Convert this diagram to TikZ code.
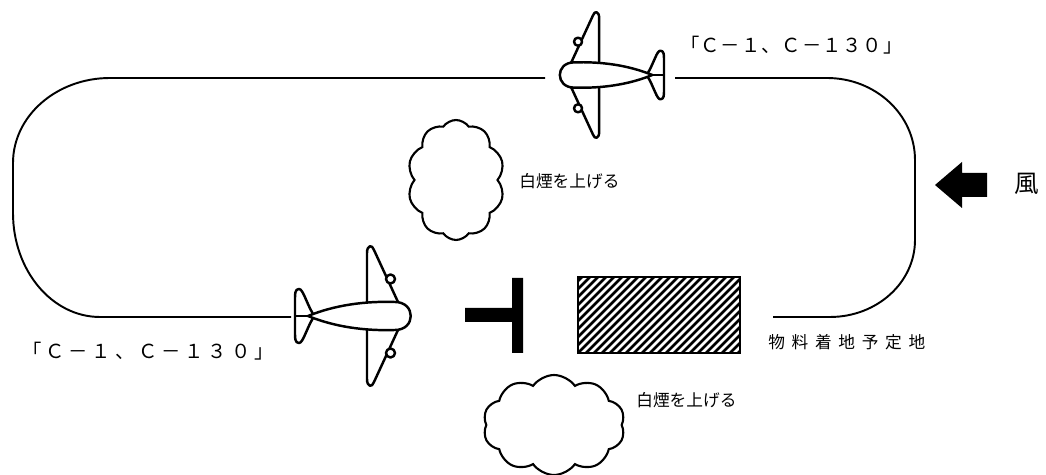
\documentclass[tikz,border=0pt]{standalone}
\usepackage{fontspec}
\setmainfont{Noto Sans CJK JP}
\usetikzlibrary{shapes.symbols}

\begin{document}
\begin{tikzpicture}[x=0.02cm,y=-0.02cm,
  loop line/.style={line width=1.1pt},
  plane line/.style={line width=1.4pt,line join=round},
  smoke/.style={cloud,cloud puffs=10,cloud puff arc=110,draw,line width=1.2pt},
  jp text/.style={inner sep=0pt,anchor=west,font=\fontsize{9.5}{11}\selectfont},
  plane/.pic={
    % wings and engines
    \draw[plane line] (12,-14) -- (12,-63) .. controls (12,-71) and (17,-72) .. (19,-66) -- (43,-14);
    \draw[plane line] (12,14) -- (12,63) .. controls (12,71) and (17,72) .. (19,66) -- (43,14);
    \draw[plane line,fill=white] (35.5,-37) circle (4.5);
    \draw[plane line,fill=white] (35.5,37) circle (4.5);
    % tail
    \draw[plane line] (-42,-2) .. controls (-49,-14) and (-52,-27) .. (-56,-27)
      .. controls (-60,-27) and (-60,-22) .. (-60,-18) -- (-60,18)
      .. controls (-60,22) and (-60,27) .. (-56,27) .. controls (-52,27) and (-49,14) .. (-42,2);
    \draw[plane line] (-60,0) -- (-46,0);
    % fuselage
    \draw[plane line,fill=white] (-47,0) .. controls (-20,-11) and (10,-15) .. (40,-14)
      .. controls (61,-14) and (61,14) .. (40,14) .. controls (10,15) and (-20,11) .. (-47,0) -- cycle;
  }]
  \useasboundingbox (0,0) rectangle (1046,475);

  % flight loop
  \draw[loop line] (545,78) -- (110,78) arc[start angle=-90,end angle=-180,x radius=97,y radius=85]
    -- (13,213) arc[start angle=180,end angle=90,x radius=87,y radius=104] -- (291,317);
  \draw[loop line] (773,317) -- (830,317) arc[start angle=90,end angle=0,x radius=85,y radius=77]
    -- (915,160) arc[start angle=0,end angle=-90,x radius=88,y radius=82] -- (675,78);

  \pic (bottom plane) at (355,316) {plane};
  \pic[xscale=-0.9,yscale=0.9] (top plane) at (610,75) {plane};

  % smoke
  \node[smoke,minimum width=1.94cm,minimum height=2.4cm] (upper smoke) at (456,180) {};
  \node[smoke,minimum width=2.84cm,minimum height=2cm] (lower smoke) at (554,425) {};

  % marker and drop zone
  \fill (465,308) -- (512,308) -- (512,278) -- (523,278) -- (523,353) -- (512,353) -- (512,322) -- (465,322) -- cycle;
  \node[draw,line width=1.2pt,minimum width=3.24cm,minimum height=1.52cm,inner sep=0pt,
    path picture={\foreach \k in {-80,-72,...,170}
      \draw[line width=1.5pt] ([xshift=\k*0.02cm]path picture bounding box.south west) -- ++(100,-100);}]
    (drop zone) at (659,315) {};

  % wind
  \fill (935,185) -- (962,162) -- (962,173) -- (987,173) -- (987,197) -- (962,197) -- (962,208) -- cycle;

  \node[jp text] (upper smoke text) at (519,181) {白煙を上げる};
  \node[jp text] (lower smoke text) at (636,400) {白煙を上げる};
  \node[jp text,font=\fontsize{9.5}{11}\selectfont\addfontfeatures{LetterSpace=40}] (drop zone text) at (768,342) {物料着地予定地};
  \node[jp text,font=\fontsize{11}{13}\selectfont\addfontfeatures{LetterSpace=5}] (top plane text) at (680,45) {「Ｃ－１、Ｃ－１３０」};
  \node[jp text,font=\fontsize{11}{13}\selectfont\addfontfeatures{LetterSpace=20}] (bottom plane text) at (22,351) {「Ｃ－１、Ｃ－１３０」};
  \node[jp text,font=\fontsize{14}{16}\selectfont] (wind text) at (1014,184) {風};
\end{tikzpicture}
\end{document}
